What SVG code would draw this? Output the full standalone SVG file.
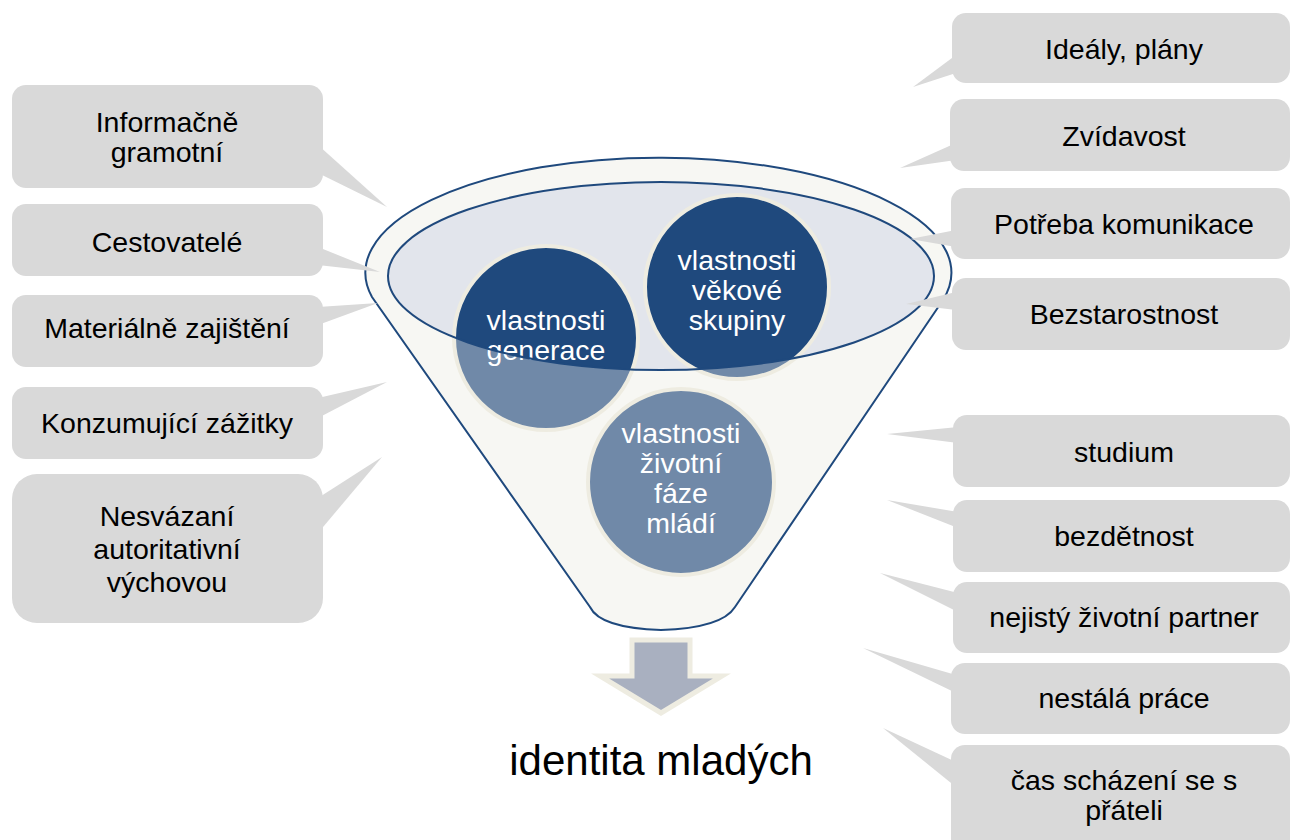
<svg xmlns="http://www.w3.org/2000/svg" width="1291" height="840" viewBox="0 0 1291 840">
<style>
.co{fill:#D9D9D9;}
.t{font-family:"Liberation Sans",Arial,sans-serif;font-size:28.5px;fill:#000;text-anchor:middle;}
.ct{font-family:"Liberation Sans",Arial,sans-serif;font-size:28.5px;fill:#FFFFFF;text-anchor:middle;}
.ring{fill:none;stroke:#EEECE1;stroke-width:4;}
</style>
<defs>
<clipPath id="inner"><ellipse cx="661" cy="276" rx="273" ry="94"/></clipPath>
</defs>
<rect width="1291" height="840" fill="#FFFFFF"/>
<g id="funnel">
<path d="M372 297 A293 115 0 1 1 943 300 L735 607 Q722 628 661 630 Q600 628 590 607 Z" fill="#F7F7F3" stroke="#1F497D" stroke-width="2"/>
<ellipse cx="661" cy="276" rx="273" ry="94" fill="#E2E5EC" stroke="none"/>
</g>
<g id="circle-generace">
<circle cx="546" cy="338" r="92" fill="#7089A8"/>
<circle cx="546" cy="338" r="92" fill="#1F497D" clip-path="url(#inner)"/>
<circle cx="546" cy="338" r="92" class="ring"/>
<text class="ct" x="546" y="330">vlastnosti</text>
<text class="ct" x="546" y="360">generace</text>
</g>
<g id="circle-vekove">
<circle cx="737" cy="287" r="92" fill="#7089A8"/>
<circle cx="737" cy="287" r="92" fill="#1F497D" clip-path="url(#inner)"/>
<circle cx="737" cy="287" r="92" class="ring"/>
<text class="ct" x="737" y="270">vlastnosti</text>
<text class="ct" x="737" y="300">věkové</text>
<text class="ct" x="737" y="330">skupiny</text>
</g>
<g id="circle-zivotni">
<circle cx="681" cy="482" r="93" fill="#7089A8"/>
<circle cx="681" cy="482" r="93" class="ring"/>
<text class="ct" x="681" y="443">vlastnosti</text>
<text class="ct" x="681" y="473">životní</text>
<text class="ct" x="681" y="503">fáze</text>
<text class="ct" x="681" y="533">mládí</text>
</g>
<g id="inner-outline">
<ellipse cx="661" cy="276" rx="273" ry="94" fill="none" stroke="#1F497D" stroke-width="2"/>
</g>
<g id="arrow">
<path d="M632 640 L690 640 L690 676 L722 676 L661 713 L600 676 L632 676 Z" fill="#A9B0C0" stroke="#EEECE1" stroke-width="5" stroke-linejoin="miter"/>
</g>
<g id="result">
<text x="661" y="775" font-family="Liberation Sans, Arial, sans-serif" font-size="42" text-anchor="middle" fill="#000">identita mladých</text>
</g>
<g id="connectors">
<polygon class="co" points="318,145 318,173 387,207"/>
<polygon class="co" points="318,247 318,265 380,272"/>
<polygon class="co" points="318,307 318,325 378,303"/>
<polygon class="co" points="318,398 318,418 387,382"/>
<polygon class="co" points="318,498 318,533 382,457"/>
<polygon class="co" points="956,55 956,73 913,87"/>
<polygon class="co" points="956,143 956,160 900,168"/>
<polygon class="co" points="956,230 956,247 910,239"/>
<polygon class="co" points="956,292 956,310 906,304"/>
<polygon class="co" points="958,427 958,443 887,434"/>
<polygon class="co" points="958,512 958,528 887,500"/>
<polygon class="co" points="958,593 958,612 880,573"/>
<polygon class="co" points="956,675 956,693 863,648"/>
<polygon class="co" points="956,762 956,787 883,728"/>
</g>
<g id="l1"><rect class="co" x="12" y="85" width="311" height="103" rx="14"/><text class="t" x="167" y="132">Informačně</text><text class="t" x="167" y="162">gramotní</text></g>
<g id="l2"><rect class="co" x="12" y="204" width="311" height="72" rx="14"/><text class="t" x="167" y="252">Cestovatelé</text></g>
<g id="l3"><rect class="co" x="12" y="295" width="311" height="72" rx="14"/><text class="t" x="167" y="338">Materiálně zajištění</text></g>
<g id="l4"><rect class="co" x="12" y="387" width="311" height="72" rx="14"/><text class="t" x="167" y="433">Konzumující zážitky</text></g>
<g id="l5"><rect class="co" x="12" y="474" width="311" height="149" rx="25"/><text class="t" x="167" y="526">Nesvázaní</text><text class="t" x="167" y="559">autoritativní</text><text class="t" x="167" y="592">výchovou</text></g>
<g id="r1"><rect class="co" x="952" y="13" width="338" height="70" rx="14"/><text class="t" x="1124" y="59">Ideály, plány</text></g>
<g id="r2"><rect class="co" x="950" y="99" width="340" height="72" rx="14"/><text class="t" x="1124" y="146">Zvídavost</text></g>
<g id="r3"><rect class="co" x="951" y="188" width="339" height="71" rx="14"/><text class="t" x="1124" y="234">Potřeba komunikace</text></g>
<g id="r4"><rect class="co" x="952" y="278" width="338" height="72" rx="14"/><text class="t" x="1124" y="324">Bezstarostnost</text></g>
<g id="r5"><rect class="co" x="953" y="415" width="337" height="72" rx="14"/><text class="t" x="1124" y="462">studium</text></g>
<g id="r6"><rect class="co" x="953" y="500" width="337" height="72" rx="14"/><text class="t" x="1124" y="546">bezdětnost</text></g>
<g id="r7"><rect class="co" x="953" y="582" width="337" height="71" rx="14"/><text class="t" x="1124" y="627">nejistý životní partner</text></g>
<g id="r8"><rect class="co" x="951" y="663" width="339" height="71" rx="14"/><text class="t" x="1124" y="708">nestálá práce</text></g>
<g id="r9"><rect class="co" x="951" y="745" width="339" height="110" rx="14"/><text class="t" x="1124" y="790">čas scházení se s</text><text class="t" x="1124" y="820">přáteli</text></g>
</svg>
